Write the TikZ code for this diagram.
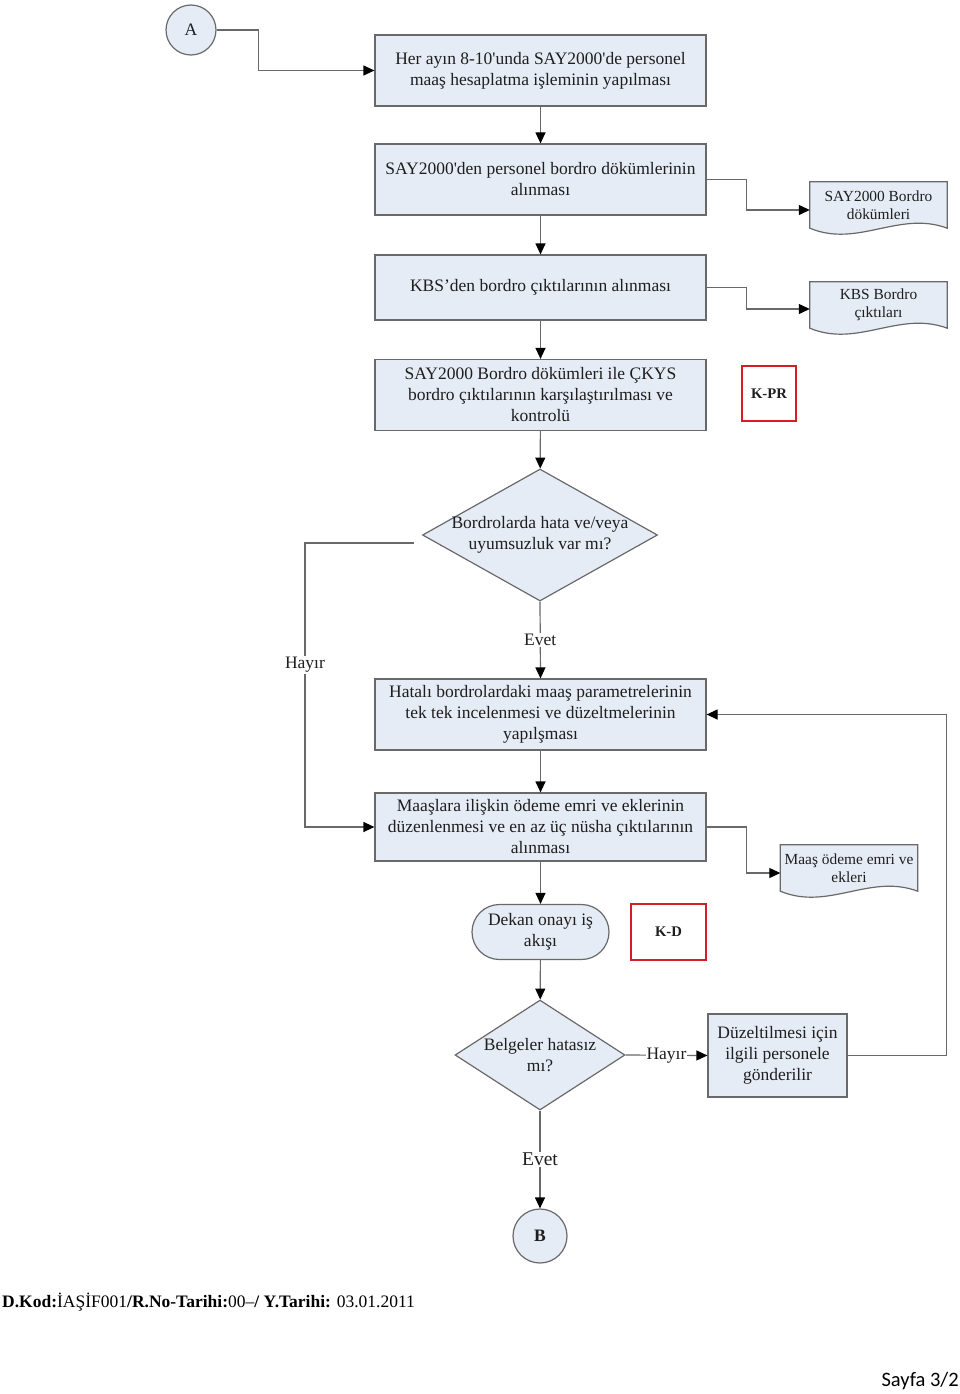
\documentclass[tikz,border=0pt]{standalone}
\usepackage{fontspec}
\setmainfont{Liberation Serif}
\newfontfamily\sayfafont{Carlito}
\usetikzlibrary{shapes.geometric,arrows.meta,calc,backgrounds}

\definecolor{kutumavi}{RGB}{230,236,246}
\definecolor{cizgi}{RGB}{105,105,105}
\definecolor{kkirmizi}{RGB}{214,28,38}
\definecolor{yazi}{RGB}{30,30,30}

\tikzset{
  kutu/.style = {draw=cizgi, fill=kutumavi, line width=1.2pt, inner sep=0pt,
                 minimum width=331, minimum height=71, align=center},
  belge/.style = {inner sep=0pt, minimum width=137, minimum height=46, align=center,
                  font=\fontsize{15.4}{18.5}\selectfont},
  karar/.style = {diamond, draw=cizgi, fill=kutumavi, line width=1.2pt, inner sep=0pt},
  bitis/.style = {kutu, minimum width=137, minimum height=55, rounded corners=27.5pt},
  baglanti/.style = {circle, draw=cizgi, fill=kutumavi, line width=1.2pt, inner sep=0pt},
  kodkutu/.style = {draw=kkirmizi, line width=2.4pt, inner sep=0pt,
                    font=\bfseries\fontsize{14.7}{17}\selectfont},
  etiket/.style = {fill=white, inner sep=1pt},
  hat/.style = {draw=cizgi, line width=1.2pt},
  ok/.style = {hat, -{Triangle[length=11pt,width=10pt,color=black]}}
}

% belge seklinin dalgali alt kenari
\newcommand\belgedalga[1]{%
  \begin{scope}[on background layer]
    \path[hat, fill=kutumavi] (#1.north west) -- (#1.north east) -- (#1.south east)
      .. controls ($(#1.south east)+(-48,-18)$) and ($(#1.south west)+(48,20)$) .. (#1.south west) -- cycle;
  \end{scope}}

\begin{document}
\begin{tikzpicture}[x=1pt, y=-1pt, text=yazi,
                    every node/.append style={font=\fontsize{17.5}{21}\selectfont}]

  \useasboundingbox (0,0) rectangle (960,1394);

  % baglanti noktasi A
  \node[baglanti, minimum size=50] (A) at (191,30) {A};

  % surec kutulari
  \node[kutu] (b1) at (540.5,70.5) {Her ayın 8-10\textquotesingle unda SAY2000\textquotesingle de personel\\maaş hesaplatma işleminin yapılması};
  \node[kutu] (b2) at (540.5,179.5) {SAY2000\textquotesingle den personel bordro dökümlerinin\\alınması};
  \node[kutu, minimum height=65] (b3) at (540.5,287.5) {KBS’den bordro çıktılarının alınması};
  \node[kutu] (b4) at (540.5,395) {SAY2000 Bordro dökümleri ile ÇKYS\\bordro çıktılarının karşılaştırılması ve\\kontrolü};
  \node[kodkutu, minimum width=54, minimum height=55] (kpr) at (769,393.5) {K-PR};

  % belgeler
  \node[belge] (doc1) at (878.5,205) {SAY2000 Bordro\\dökümleri};
  \node[belge] (doc2) at (878.5,305) {KBS Bordro\\çıktıları};
  \belgedalga{doc1}
  \belgedalga{doc2}

  % karar 1
  \node[karar, minimum width=235, minimum height=132,
        label={[align=center]center:Bordrolarda hata ve/veya\\uyumsuzluk var mı?}] (d1) at (540,535) {};

  \node[kutu] (b5) at (540.5,714.5) {Hatalı bordrolardaki maaş parametrelerinin\\tek tek incelenmesi ve düzeltmelerinin\\yapılşması};
  \node[kutu, minimum height=68] (b6) at (540.5,827) {Maaşlara ilişkin ödeme emri ve eklerinin\\düzenlenmesi ve en az üç nüsha çıktılarının\\alınması};
  \node[belge] (doc3) at (849,868) {Maaş ödeme emri ve\\ekleri};
  \belgedalga{doc3}

  \node[bitis] (t1) at (540.5,932) {Dekan onayı iş\\akışı};
  \node[kodkutu, minimum width=75, minimum height=56] (kd) at (668.5,932) {K-D};

  % karar 2
  \node[karar, minimum width=170, minimum height=110,
        label={[align=center]center:Belgeler hatasız\\mı?}] (d2) at (540,1055) {};
  \node[kutu, minimum width=139, minimum height=83] (b7) at (777.5,1055.5) {Düzeltilmesi için\\ilgili personele\\gönderilir};

  % baglanti noktasi B
  \node[baglanti, minimum size=54, font=\bfseries\fontsize{17.5}{21}\selectfont] (B) at (540,1236) {B};

  % oklar
  \draw[ok] (A.east) -- ++(42,0) |- (b1.west);
  \draw[ok] (b1) -- (b2);
  \draw[ok] (b2) -- (b3);
  \draw[ok] (b3) -- (b4);
  \draw[ok] (b4) -- (d1);
  \draw[ok] (b2.east) -- ++(40,0) |- ([yshift=-5pt]doc1.west);
  \draw[ok] (b3.east) -- ++(40,0) |- ([yshift=-4pt]doc2.west);
  \draw[ok] (d1.south) -- (b5.north) node[midway, etiket] {Evet};
  \draw[ok] ([shift={(-8pt,-8pt)}]d1.west) -- ++(-109,0) |- (b6.west);
  \node[etiket] (h1) at (305,665) {Hayır};
  \draw[ok] (b5) -- (b6);
  \draw[ok] (b6.east) -- ++(40,0) |- ([yshift=-5pt]doc3.west);
  \draw[ok] (b6) -- (t1);
  \draw[ok] (t1) -- (d2);
  \draw[ok] (d2.east) -- (b7.west) node[midway, etiket] {Hayır};
  \draw[ok] (b7.east) -- ++(99,0) |- (b5.east);
  \draw[ok] (d2.south) -- (B.north) node[midway, etiket, font=\fontsize{19.5}{22}\selectfont] {Evet};

  % alt bilgi
  \node[anchor=west, inner sep=0pt, text=black] (kod) at (2,1302)
    {\textbf{D.Kod:}İAŞİF001\textbf{/R.No-Tarihi:}00–\textbf{/ Y.Tarihi:} 03.01.2011};
  \node[anchor=east, inner sep=0pt, text=black, font=\sayfafont\fontsize{20.5}{24}\selectfont] (sayfa) at (959,1381) {Sayfa 3/2};

\end{tikzpicture}
\end{document}
